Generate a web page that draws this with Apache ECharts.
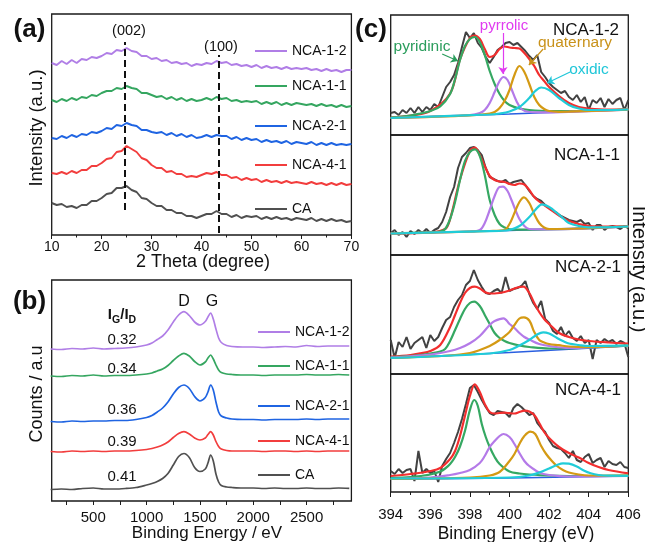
<!DOCTYPE html>
<html><head><meta charset="utf-8">
<script src="https://cdn.jsdelivr.net/npm/echarts@6/dist/echarts.min.js"></script>
<style>html,body{margin:0;padding:0;background:#fff}#c{width:645px;height:542px}</style>
</head><body><div id="c"></div>
<script>
const FONT = 'Arial, "Liberation Sans", sans-serif';

// ---------- (a) XRD ----------
const xrdAngle = [10,11,12,13,14,15,16,17,18,19,20,21,22,23,24,25,26,27,28,29,30,31,32,33,34,35,36,37,38,39,40,41,42,43,44,45,46,47,48,49,50,51,52,53,54,55,56,57,58,59,60,61,62,63,64,65,66,67,68,69,70];
const xrdNCA12 = [172,170,174,171,175,172,176,175,178,177,179,182,181,185,184,187,184,183,179,179,176,177,174,175,172,173,171,172,169,171,170,172,171,174,172,173,170,171,169,170,168,170,167,169,167,168,166,168,166,167,166,167,165,166,164,166,164,165,163,165,165];
const xrdNCA11 = [135,133,136,134,137,135,138,137,140,139,142,144,144,147,146,149,147,146,142,142,140,138,139,136,138,135,137,134,136,134,135,137,135,138,136,137,134,135,133,134,133,134,131,133,131,133,130,132,130,132,131,130,131,129,131,129,130,128,130,128,129];
const xrdNCA21 = [97,96,99,97,100,98,101,100,103,102,104,107,106,110,109,112,110,109,105,105,103,102,103,100,102,99,101,98,100,97,98,100,98,100,99,99,96,98,95,97,95,96,93,95,93,94,92,94,91,93,92,91,93,90,92,90,92,90,91,90,91];
const xrdNCA41 = [62,61,63,61,64,62,65,65,69,69,72,76,77,83,84,89,86,83,77,75,70,67,67,63,64,61,61,58,59,58,60,62,61,63,60,60,57,58,55,57,55,56,53,55,53,54,52,54,52,53,52,51,53,51,52,50,52,50,52,50,51];
const xrdCA = [32,30,31,28,29,27,30,30,34,34,37,41,42,47,47,49,45,43,37,36,32,29,29,25,25,22,22,19,19,17,19,21,21,24,21,21,18,20,17,19,18,19,16,18,16,18,16,17,15,17,16,15,17,14,16,14,16,14,15,13,14];
const xrdPeaks = [{label:'(002)', angle:24.7}, {label:'(100)', angle:43.5}];

// ---------- (b) Raman ----------
const ramanShift = [100,200,300,400,500,600,700,800,900,1000,1050,1100,1150,1200,1250,1300,1350,1400,1450,1500,1550,1575,1600,1625,1650,1675,1700,1750,1800,1900,2000,2100,2200,2300,2400,2500,2600,2700,2800,2900];
const ramanNCA12 = [152,151.5,152.5,152,153,152,152.5,153,154,156,158,161.5,165,171,179,186,189.3,185.5,179,176,179.5,184,188,182,172,163,158.5,155.5,154.5,154,154,153.5,154,154.5,154,155.5,154.5,155,155,155];
const ramanNCA11 = [125,124.5,125.5,125,126,125,125.5,125.5,126,127,128,130,132,135.5,140.5,145,147.7,145,139.5,136,139,143,146,142,136,131,128.5,127,126.5,126,126,125.5,126,126,126,126.5,126,126,126.5,126];
const ramanNCA21 = [79.5,79,80,79.5,80,80,80.5,80.5,81.5,83.5,85.5,89,93,99,107,113.5,116,112.5,104.5,100,103.5,109,116,111,99,89,85,83,82,81.5,81.5,81,81.5,81.5,81.5,82,81.5,82,82,82];
const ramanNCA41 = [49.5,49,50,49.5,50,49.5,50,50,50.5,51.5,52.5,54,56,59,63.5,67.5,69.3,67,63,61,63,66.5,69.3,66,59.5,54.5,52,50.5,50,50,50,49.5,50,50,49.5,50,49.5,50,50,50];
const ramanCA = [11.5,12,11.5,12.5,13,12,12,12.5,13.5,16,17.5,19.5,22.5,27.5,36,44.5,47.5,43.5,33.5,29.5,32,38,46,40,27,19,15.5,14,13.5,13,13,12.5,13,12.5,12.5,13,12.5,12.5,13,12.7];
const ramanTickLabels = [500,1000,1500,2000,2500];
const ramanTicks = [250,500,750,1000,1250,1500,1750,2000,2250,2500,2750];
const igidRatios = ['0.32','0.34','0.36','0.39','0.41'];

const sampleNames = ['NCA-1-2','NCA-1-1','NCA-2-1','NCA-4-1','CA'];

// ---------- (c) XPS N1s ----------
const xpsEnergy = [394.0,394.2,394.4,394.6,394.8,395.0,395.2,395.4,395.6,395.8,396.0,396.2,396.4,396.6,396.8,397.0,397.2,397.4,397.6,397.8,398.0,398.2,398.4,398.6,398.8,399.0,399.2,399.4,399.6,399.8,400.0,400.2,400.4,400.6,400.8,401.0,401.2,401.4,401.6,401.8,402.0,402.2,402.4,402.6,402.8,403.0,403.2,403.4,403.6,403.8,404.0,404.2,404.4,404.6,404.8,405.0,405.2,405.4,405.6,405.8,406.0];

const raw12 = [22,23,20,25,22,27,22,28,23,28,25,31,28,38,48,53,60,72,88,103,97,102,92,87,78,72,78,85,88,92,93,90,92,88,84,79,75,80,63,58,52,48,45,42,44,38,35,40,33,38,25,35,32,37,28,36,31,35,37,25,35];
const raw11 = [22,25,20,23,18,24,21,25,22,26,22,25,27,33,43,58,68,87,98,102,107,108,105,100,87,78,76,74,73,75,71,73,74,75,70,64,59,56,54,50,47,44,42,39,37,35,34,33,35,31,32,25,30,30,25,28,29,28,26,29,27];
const raw21 = [34,16,32,27,37,25,31,34,37,26,39,33,37,46,54,57,67,74,79,89,93,104,94,87,81,80,83,85,81,97,83,85,86,88,93,80,71,65,73,55,51,43,40,47,38,43,36,33,38,31,34,15,34,31,35,32,34,30,33,31,17];
const raw41 = [21,18,23,19,22,23,11,41,19,23,19,21,10,26,33,39,49,60,73,88,104,107,100,92,85,79,77,81,80,79,75,84,88,85,81,77,79,69,64,60,52,46,44,43,39,34,41,32,30,35,38,29,32,34,25,31,28,27,30,25,24];

const bg12 = [[394,17],[400,21],[406,25.5]];
const env12 = [[394,17.5],[395,19.5],[396,24],[397,41.5],[397.5,75.5],[398,97],[398.25,99.5],[398.5,96],[398.75,86],[399,78],[399.25,80],[399.5,86],[399.75,88.5],[400,87.5],[400.25,87],[400.5,86.5],[400.75,82],[401,76],[401.25,69],[401.5,60],[401.75,54],[402,48],[402.5,39],[403,32],[403.5,28],[404,26.5],[405,25.5],[406,26]];
const pyridinic12 = [[394,17.5],[395,19.5],[395.5,21.5],[396,24],[396.5,28.5],[397,41],[397.25,56],[397.5,75],[397.75,89],[398,96],[398.25,98],[398.5,93],[398.75,80],[399,64],[399.25,51],[399.5,41],[399.75,34],[400,30],[400.5,26.5],[401,25],[402,24],[403,24],[404,24.2],[406,25.5]];
const pyrrolic12 = [[394,17],[397,19],[398,20],[398.5,22],[398.75,25],[399,32],[399.25,43],[399.5,54],[399.7,58],[399.9,55],[400.1,46],[400.35,34],[400.6,26],[401,23],[402,22.6],[404,23.8],[406,25.3]];
const quaternary12 = [[394,17],[398,19.7],[399,21.5],[399.25,23],[399.5,27],[399.75,34],[400,45],[400.25,60],[400.5,69],[400.75,63],[401,51],[401.25,38],[401.5,30],[401.75,26],[402,24],[402.5,23.2],[403,23.3],[406,25.3]];
const oxidic12 = [[394,17],[399,20.5],[399.5,21.5],[400,23.5],[400.5,28],[401,37],[401.3,44],[401.6,47.5],[402,45],[402.5,37],[403,30],[403.5,26.5],[404,25],[405,25],[406,25.5]];

const bg11 = [[394,21.5],[400,24.5],[406,28.5]];
const env11 = [[394,21.5],[396,22.6],[396.75,26],[397,36],[397.5,75.5],[398,104],[398.25,107.3],[398.5,100],[398.75,89],[399,79],[399.25,75],[399.5,73.5],[399.75,73],[400,71],[400.25,70],[400.5,71.5],[400.75,70.5],[401,65],[401.25,58],[401.5,53.5],[401.75,50],[402,46.5],[402.5,39.5],[403,34],[403.5,31],[404,29],[405,28.5],[406,28.8]];
const pyridinic11 = [[394,21.5],[396,22.6],[396.5,23.5],[396.75,26],[397,36],[397.25,53],[397.5,75],[397.75,94],[398,103],[398.25,105.7],[398.5,99],[398.75,80],[399,55],[399.25,40],[399.5,31],[399.75,27.5],[400,25.7],[401,25.3],[406,28.5]];
const pyrrolic11 = [[394,21.5],[398,23.5],[398.5,25],[398.75,32],[399,45],[399.25,59],[399.5,68],[399.67,68.3],[399.9,64],[400.1,55],[400.3,45],[400.5,36],[400.75,29],[401,26],[402,25.6],[406,28.5]];
const quaternary11 = [[394,21.5],[399,24],[399.75,25],[400,31],[400.25,42],[400.5,53],[400.73,57.7],[401,52],[401.25,41],[401.5,32],[401.75,27.5],[402,26],[406,28.5]];
const oxidic11 = [[394,21.5],[399.5,24.2],[400,25],[400.5,29],[401,38],[401.3,45],[401.65,50.7],[402,48],[402.4,42],[402.75,36],[403,32],[403.5,29],[404,27.6],[406,28.5]];

const bg21 = [[394,15.7],[400,21.5],[406,28]];
const env21 = [[394,17.3],[395,19],[395.5,20.7],[396,23],[396.5,29],[397,47],[397.25,59],[397.5,71],[397.75,81],[398,86],[398.25,87.3],[398.5,85.5],[398.75,82],[399,80.5],[399.25,80.5],[399.5,81],[399.75,82],[400,83.5],[400.25,85.5],[400.5,87],[400.7,87.3],[401,81],[401.25,71],[401.5,62],[401.75,55],[402,50],[402.5,41],[403,37],[403.5,34.5],[404,33],[405,31.5],[406,30.5]];
const pyridinic21 = [[394,17],[395,18],[395.5,19],[396,20.5],[396.5,22.5],[396.75,25],[397,33],[397.25,44],[397.5,55],[397.75,65],[398,71],[398.22,72.3],[398.5,68],[398.75,59],[399,50],[399.25,41],[399.5,36],[399.75,33],[400,31],[400.5,28.5],[401,27],[402,25.5],[404,26.5],[406,28.5]];
const pyrrolic21 = [[394,16.5],[396,19.5],[397,23],[397.5,26],[398,30.7],[398.5,38],[399,49],[399.25,53],[399.7,55.7],[400,50],[400.25,46],[400.5,41],[400.75,37],[401,34.5],[401.5,30],[402,28],[403,26],[404,26.5],[406,28.5]];
const quaternary21 = [[394,16],[397,18.5],[398,21],[398.5,24],[399,28],[399.5,34],[400,42],[400.25,49],[400.5,55.5],[400.73,56.7],[401,53.5],[401.25,42],[401.5,34],[401.75,31.5],[402,30],[402.5,28.8],[403,27.5],[404,27],[406,28.3]];
const oxidic21 = [[394,16],[399,20.5],[400,24],[400.5,28.5],[401,34],[401.4,39.5],[401.7,41.7],[402,40.5],[402.4,36],[402.75,32.5],[403,30.5],[403.5,29],[404,28],[406,28.3]];

const bg41 = [[394,12.7],[400,14],[406,16]];
const env41 = [[394,16],[395,18],[396,21],[396.5,24],[397,33],[397.25,41],[397.5,56],[397.75,76],[398,96],[398.25,107.7],[398.5,100],[398.75,88],[399,80],[399.25,78.5],[399.5,79],[399.75,79.3],[400,78.8],[400.25,78.5],[400.5,80],[400.75,81.3],[401,80.5],[401.25,77],[401.5,69],[401.75,60],[402,54],[402.5,45],[403,39],[403.5,34.5],[404,29],[404.5,25],[405,22],[406,18.7]];
const pyridinic41 = [[394,14],[395,15],[395.5,16],[396,17.5],[396.5,20.5],[396.75,23.5],[397,28],[397.25,35],[397.5,45.5],[397.75,61],[398,82],[398.22,92],[398.4,86],[398.6,68],[398.8,55],[399,45],[399.25,35],[399.5,28],[400,20.5],[400.5,18.5],[401,17.5],[402,16.5],[404,16],[406,16.5]];
const pyrrolic41 = [[394,13],[396,14.5],[397,17],[397.5,19],[398,22],[398.5,29],[398.75,36],[399,45],[399.25,51],[399.5,56],[399.7,58],[400,55],[400.25,48],[400.5,39],[400.75,31],[401,26],[401.5,19.5],[402,17],[403,15.5],[406,16]];
const quaternary41 = [[394,13],[398,14.5],[399,16.5],[399.5,20],[400,31],[400.25,38],[400.5,48],[400.75,56],[401.05,60.3],[401.3,58],[401.6,46],[401.85,38],[402.1,32],[402.4,26],[402.7,22],[403,19.5],[403.5,17.5],[404,16.5],[406,16.3]];
const oxidic41 = [[394,13.5],[400,14.5],[401,16.5],[401.5,19.5],[402,23.5],[402.4,27],[402.7,28.7],[403,28.3],[403.4,25.5],[403.75,21.5],[404.1,18.7],[404.5,17],[405,16.3],[406,16.2]];

const xpsPanels = [
  {name:'NCA-1-2', raw:raw12, bg:bg12, env:env12, comps:[pyridinic12,pyrrolic12,quaternary12,oxidic12]},
  {name:'NCA-1-1', raw:raw11, bg:bg11, env:env11, comps:[pyridinic11,pyrrolic11,quaternary11,oxidic11]},
  {name:'NCA-2-1', raw:raw21, bg:bg21, env:env21, comps:[pyridinic21,pyrrolic21,quaternary21,oxidic21]},
  {name:'NCA-4-1', raw:raw41, bg:bg41, env:env41, comps:[pyridinic41,pyrrolic41,quaternary41,oxidic41]}
];
const componentNames = ['pyridinic','pyrrolic','quaternary','oxidic'];
// annotation arrows (label -> peak) in panel NCA-1-2 data coordinates
const arrowStart = [[396.6,81],[399.67,102],[401.7,86],[403.06,63]];
const arrowEnd = [[397.4,74],[399.67,61],[400.98,70],[401.9,52]];

// ---------- styles ----------
const sampleColors = ['#b07ee6','#35a660','#1f64e2','#f23d3d','#505050'];
const compColors = ['#35a862','#b47ae8','#d49a14','#20ccd8'];
const compTextColors = ['#2a9d5c','#e03cf0','#c9921a','#1fc6d8'];
const envColor = '#f22e2e', bgColor = '#2a5fe0', rawColor = '#424242';
const AX = '#1a1a1a';

const chart = echarts.init(document.getElementById('c'), null, {renderer:'canvas'});
const zip = (xs, ys) => xs.map((x,i)=>[x, ys[i]]);

const grids = [
  {left:51.7, top:14, width:299.7, height:221},
  {left:51.7, top:280, width:299.7, height:221},
  {left:390.7, top:15, width:237.6, height:120},
  {left:390.7, top:135, width:237.6, height:120},
  {left:390.7, top:255, width:237.6, height:119},
  {left:390.7, top:374, width:237.6, height:118}
].map(g=>Object.assign(g,{show:true, borderColor:AX, borderWidth:1.3, containLabel:false}));

const labelStyle = {color:'#111', fontFamily:FONT};
const xAxes = [
  {gridIndex:0, type:'value', min:10, max:70, interval:10,
   axisLine:{show:false}, splitLine:{show:false},
   axisTick:{show:true, length:4, lineStyle:{color:AX, width:1}},
   minorTick:{show:true, splitNumber:2, length:2.5, lineStyle:{color:AX}},
   axisLabel:Object.assign({fontSize:14, margin:5}, labelStyle)},
  {gridIndex:1, type:'value', min:110, max:2920,
   axisLine:{show:false}, splitLine:{show:false},
   axisTick:{show:true, length:4, customValues:ramanTicks, lineStyle:{color:AX, width:1}},
   axisLabel:Object.assign({fontSize:15, margin:9, customValues:ramanTickLabels, formatter:v=>String(v)}, labelStyle)},
  {gridIndex:2, type:'value', min:394, max:406, show:false},
  {gridIndex:3, type:'value', min:394, max:406, show:false},
  {gridIndex:4, type:'value', min:394, max:406, show:false},
  {gridIndex:5, type:'value', min:394, max:406, interval:2,
   axisLine:{show:false}, splitLine:{show:false},
   axisTick:{show:true, length:5, lineStyle:{color:AX, width:1}},
   minorTick:{show:true, splitNumber:2, length:3, lineStyle:{color:AX}},
   axisLabel:Object.assign({fontSize:15, margin:15, formatter:v=>String(v)}, labelStyle)}
];
const yMax = [221,221,120,120,119,118];
const yAxes = yMax.map((m,i)=>({gridIndex:i, type:'value', min:0, max:m, show:false}));

const series = [];
const xrdSets = [xrdNCA12,xrdNCA11,xrdNCA21,xrdNCA41,xrdCA];
const ramanSets = [ramanNCA12,ramanNCA11,ramanNCA21,ramanNCA41,ramanCA];
xrdSets.forEach((ys,i)=>{
  const s = {type:'line', name:sampleNames[i], xAxisIndex:0, yAxisIndex:0, data:zip(xrdAngle, ys),
    symbol:'none', lineStyle:{color:sampleColors[i], width:1.9}, itemStyle:{color:sampleColors[i]}, silent:true};
  if (i===4) {
    s.markLine = {silent:true, symbol:'none', label:{show:false},
      lineStyle:{type:[7,4], color:'#111', width:2},
      data:[[{coord:[xrdPeaks[0].angle,25]},{coord:[xrdPeaks[0].angle,193]}],
            [{coord:[xrdPeaks[1].angle,2]},{coord:[xrdPeaks[1].angle,180]}]]};
  }
  series.push(s);
});
ramanSets.forEach((ys,i)=>{
  series.push({type:'line', name:sampleNames[i], xAxisIndex:1, yAxisIndex:1, data:zip(ramanShift, ys),
    symbol:'none', smooth:0.3, lineStyle:{color:sampleColors[i], width:1.7}, itemStyle:{color:sampleColors[i]}, silent:true});
});
xpsPanels.forEach((p,k)=>{
  const gi = k+2;
  const base = {type:'line', xAxisIndex:gi, yAxisIndex:gi, symbol:'none', silent:true};
  series.push(Object.assign({}, base, {name:p.name+' raw', data:zip(xpsEnergy,p.raw), lineStyle:{color:rawColor, width:2}}));
  series.push(Object.assign({}, base, {name:p.name+' fit', data:p.env, smooth:0.35, lineStyle:{color:envColor, width:2.2}}));
  series.push(Object.assign({}, base, {name:p.name+' background', data:p.bg, lineStyle:{color:bgColor, width:1.6}}));
  p.comps.forEach((c,j)=>{
    const s = Object.assign({}, base, {name:p.name+' '+componentNames[j], data:c, smooth:0.35, lineStyle:{color:compColors[j], width:2.2}});
    if (k===0 && j===3) {
      s.markLine = {silent:true, symbol:['none','arrow'], symbolSize:7, label:{show:false},
        data: arrowStart.map((a,m)=>[{coord:a, lineStyle:{color:compTextColors[m], width:1.2, type:'solid'}, itemStyle:{color:compTextColors[m]}},{coord:arrowEnd[m]}])};
    }
    series.push(s);
  });
});

const legA = [52,87,127,166,210], legB = [333,367,407,442,476];
const legends = [];
sampleNames.forEach((n,i)=>{
  [[255,legA[i]],[258,legB[i]]].forEach(([l,c])=>{
    legends.push({data:[n], left:l, top:c-8, padding:0, icon:'rect', itemWidth:32, itemHeight:2, selectedMode:false,
      textStyle:{fontSize:14, color:'#111', fontFamily:FONT}});
  });
});

function TS(text, x, y, size, color, weight) {
  return {type:'text', x, y, silent:true, style:{text, fill:color||'#111', font:(weight||'normal')+' '+size+'px '+FONT, align:'center', verticalAlign:'middle'}};
}
const graphics = [
  TS('(a)', 29.5, 30, 26, '#111', 'bold'),
  TS('(b)', 29.5, 302, 26, '#111', 'bold'),
  TS('(c)', 371, 30, 26, '#111', 'bold'),
  TS(xrdPeaks[0].label, 129, 31, 14.5),
  TS(xrdPeaks[1].label, 221, 47, 14.5),
  Object.assign(TS('Intensity (a.u.)', 37, 128, 18.5), {rotation:Math.PI/2}),
  TS('2 Theta (degree)', 203, 262, 18),
  Object.assign(TS('Counts / a.u', 37, 394, 18), {rotation:Math.PI/2}),
  TS('Binding Energy / eV', 207, 533, 17),
  TS('D', 184, 302, 16),
  TS('G', 212, 302, 16),
  {type:'text', x:122, y:315, silent:true, style:{text:'{a|I}{s|G}{a|/I}{s|D}', align:'center', verticalAlign:'middle',
     rich:{a:{fontSize:15, fontWeight:'bold', fontFamily:FONT, fill:'#111', lineHeight:22, verticalAlign:'middle'},
           s:{fontSize:10.5, fontWeight:'bold', fontFamily:FONT, fill:'#111', verticalAlign:'bottom'}}}},
  TS(igidRatios[0], 122, 340, 15),
  TS(igidRatios[1], 122, 369, 15),
  TS(igidRatios[2], 122, 410, 15),
  TS(igidRatios[3], 122, 442, 15),
  TS(igidRatios[4], 122, 477, 15),
  TS(xpsPanels[0].name, 586, 30, 17),
  TS(xpsPanels[1].name, 587, 155, 17),
  TS(xpsPanels[2].name, 588, 267, 17),
  TS(xpsPanels[3].name, 588, 390, 17),
  TS(componentNames[0], 422, 47, 15.5, compTextColors[0]),
  TS(componentNames[1], 504, 26, 15, compTextColors[1]),
  TS(componentNames[2], 575, 43, 15.5, compTextColors[2]),
  TS(componentNames[3], 589, 70, 15.5, compTextColors[3]),
  TS('Binding Energy (eV)', 516, 534, 17.5),
  Object.assign(TS('Intensity (a.u.)', 639, 269, 20), {rotation:-Math.PI/2})
];

chart.setOption({
  animation:false,
  backgroundColor:'#fff',
  textStyle:{fontFamily:FONT},
  grid:grids, xAxis:xAxes, yAxis:yAxes,
  legend:legends,
  series:series,
  graphic:graphics
});
</script></body></html>
